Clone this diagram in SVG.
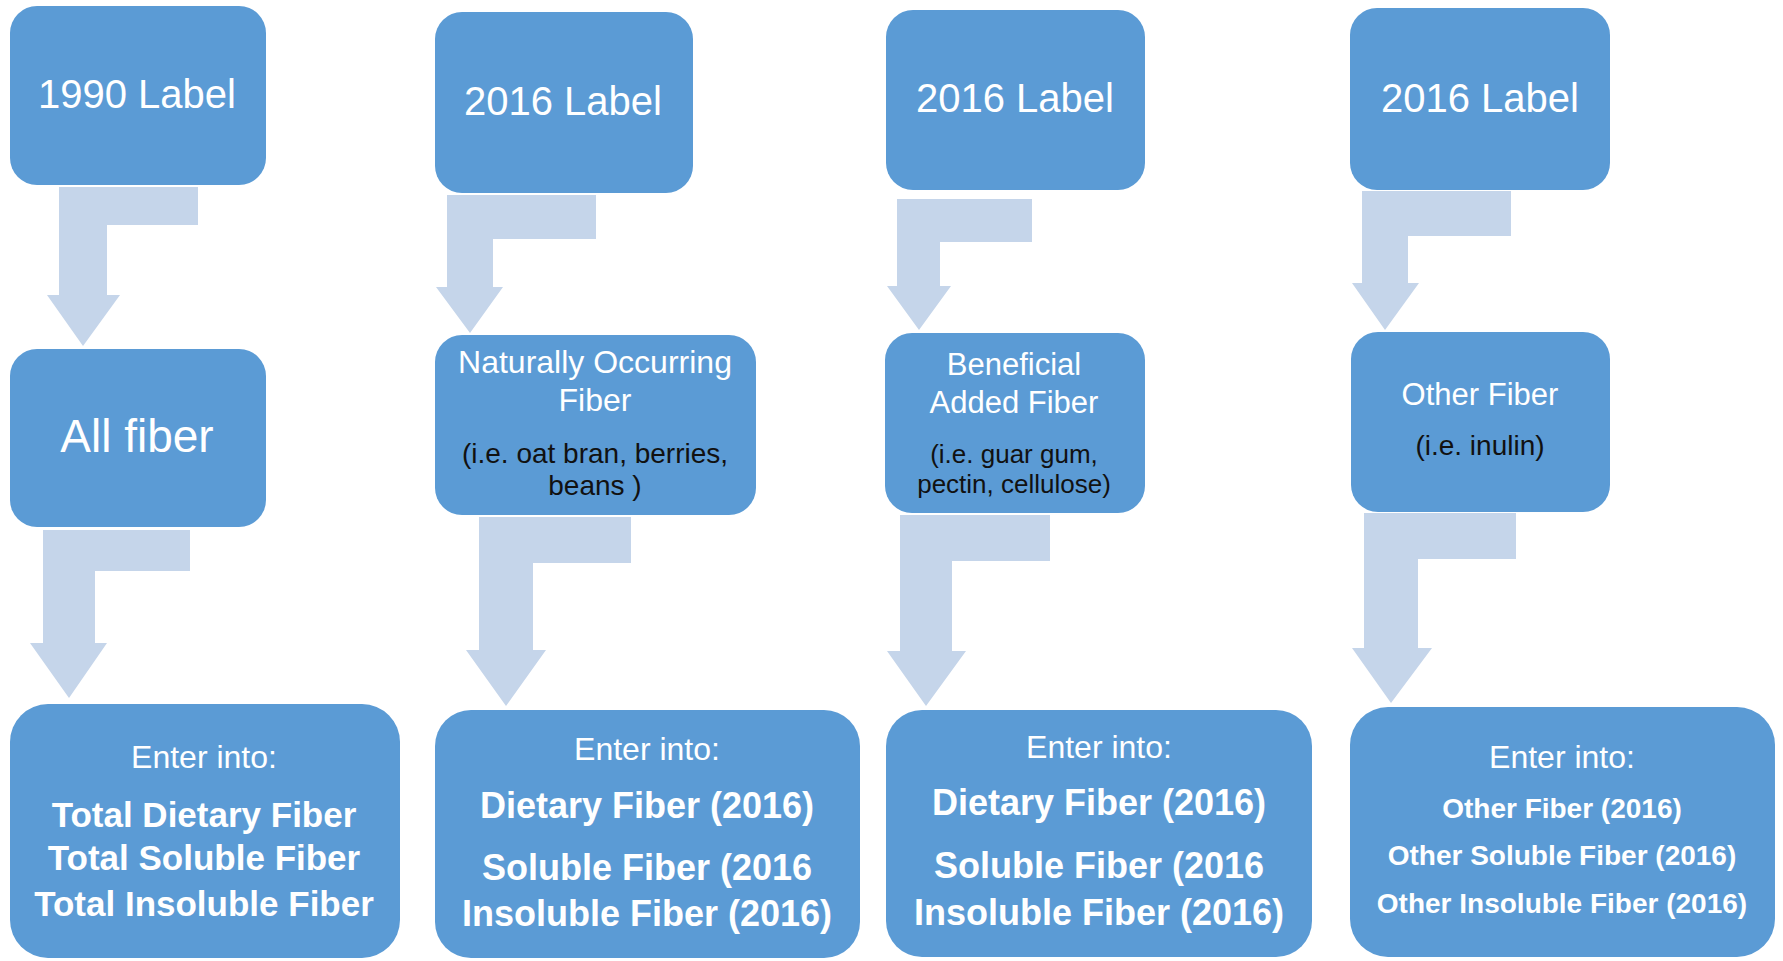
<svg xmlns="http://www.w3.org/2000/svg" width="1783" height="961" viewBox="0 0 1783 961">
<style>
.box{fill:#5B9BD5}
.arr{fill:#C5D5EA}
text{font-family:"Liberation Sans",Arial,sans-serif;text-anchor:middle}
.w{fill:#FFFFFF}
.k{fill:#111111}
.t40{font-size:40px}
.t45{font-size:46px}
.t31{font-size:31px}
.t32{font-size:32px}
.s28{font-size:28px}
.s26{font-size:26px}
.b35{font-size:35px;font-weight:bold}
.b36{font-size:36px;font-weight:bold}
.b28{font-size:28px;font-weight:bold}
</style>
<rect width="1783" height="961" fill="#FFFFFF"/>
<g id="connectors">
<path class="arr" d="M198,187 L198,225 L107,225 L107,295 L120,295 L83,346 L47,295 L59,295 L59,187 Z"/>
<path class="arr" d="M190,530 L190,571 L95,571 L95,643 L107,643 L69,698 L30,643 L43,643 L43,530 Z"/>
<path class="arr" d="M596,195 L596,239 L493,239 L493,287 L503,287 L470,333 L436,287 L447,287 L447,195 Z"/>
<path class="arr" d="M631,517 L631,563 L533,563 L533,650 L546,650 L506,706 L466,650 L479,650 L479,517 Z"/>
<path class="arr" d="M1032,199 L1032,242 L940,242 L940,286 L951,286 L919,330 L887,286 L897,286 L897,199 Z"/>
<path class="arr" d="M1050,515 L1050,561 L952,561 L952,651 L966,651 L926,706 L887,651 L900,651 L900,515 Z"/>
<path class="arr" d="M1511,191 L1511,236 L1408,236 L1408,283 L1419,283 L1385,330 L1352,283 L1362,283 L1362,191 Z"/>
<path class="arr" d="M1516,513 L1516,559 L1418,559 L1418,648 L1432,648 L1391,703 L1352,648 L1364,648 L1364,513 Z"/>
</g>
<g id="label1990">
<rect class="box" x="10" y="6" width="256" height="179" rx="27"/>
<text class="w t40" x="137" y="108">1990 Label</text>
</g>
<g id="allfiber">
<rect class="box" x="10" y="349" width="256" height="178" rx="27"/>
<text class="w t45" x="137" y="452">All fiber</text>
</g>
<g id="enter1">
<rect class="box" x="10" y="704" width="390" height="254" rx="38"/>
<text class="w t32" x="204" y="768">Enter into:</text>
<text class="w b35" x="204" y="827">Total Dietary Fiber</text>
<text class="w b35" x="204" y="870">Total Soluble Fiber</text>
<text class="w b35" x="204" y="916">Total Insoluble Fiber</text>
</g>
<g id="label2016a">
<rect class="box" x="435" y="12" width="258" height="181" rx="27"/>
<text class="w t40" x="563" y="115">2016 Label</text>
</g>
<g id="natural">
<rect class="box" x="435" y="335" width="321" height="180" rx="27"/>
<text class="w t32" x="595" y="373">Naturally Occurring</text>
<text class="w t32" x="595" y="411">Fiber</text>
<text class="k s28" x="595" y="463">(i.e. oat bran, berries,</text>
<text class="k s28" x="595" y="495">beans )</text>
</g>
<g id="enter2">
<rect class="box" x="435" y="710" width="425" height="248" rx="36"/>
<text class="w t32" x="647" y="760">Enter into:</text>
<text class="w b36" x="647" y="818">Dietary Fiber (2016)</text>
<text class="w b36" x="647" y="880">Soluble Fiber (2016</text>
<text class="w b36" x="647" y="926">Insoluble Fiber (2016)</text>
</g>
<g id="label2016b">
<rect class="box" x="886" y="10" width="259" height="180" rx="27"/>
<text class="w t40" x="1015" y="112">2016 Label</text>
</g>
<g id="beneficial">
<rect class="box" x="885" y="333" width="260" height="180" rx="27"/>
<text class="w t31" x="1014" y="375">Beneficial</text>
<text class="w t31" x="1014" y="413">Added Fiber</text>
<text class="k s26" x="1014" y="463">(i.e. guar gum,</text>
<text class="k s26" x="1014" y="493">pectin, cellulose)</text>
</g>
<g id="enter3">
<rect class="box" x="886" y="710" width="426" height="247" rx="36"/>
<text class="w t32" x="1099" y="758">Enter into:</text>
<text class="w b36" x="1099" y="815">Dietary Fiber (2016)</text>
<text class="w b36" x="1099" y="878">Soluble Fiber (2016</text>
<text class="w b36" x="1099" y="925">Insoluble Fiber (2016)</text>
</g>
<g id="label2016c">
<rect class="box" x="1350" y="8" width="260" height="182" rx="27"/>
<text class="w t40" x="1480" y="112">2016 Label</text>
</g>
<g id="other">
<rect class="box" x="1351" y="332" width="259" height="180" rx="27"/>
<text class="w t31" x="1480" y="405">Other Fiber</text>
<text class="k s28" x="1480" y="455">(i.e. inulin)</text>
</g>
<g id="enter4">
<rect class="box" x="1350" y="707" width="425" height="250" rx="38"/>
<text class="w t32" x="1562" y="768">Enter into:</text>
<text class="w b28" x="1562" y="818">Other Fiber (2016)</text>
<text class="w b28" x="1562" y="865">Other Soluble Fiber (2016)</text>
<text class="w b28" x="1562" y="913">Other Insoluble Fiber (2016)</text>
</g>
</svg>
